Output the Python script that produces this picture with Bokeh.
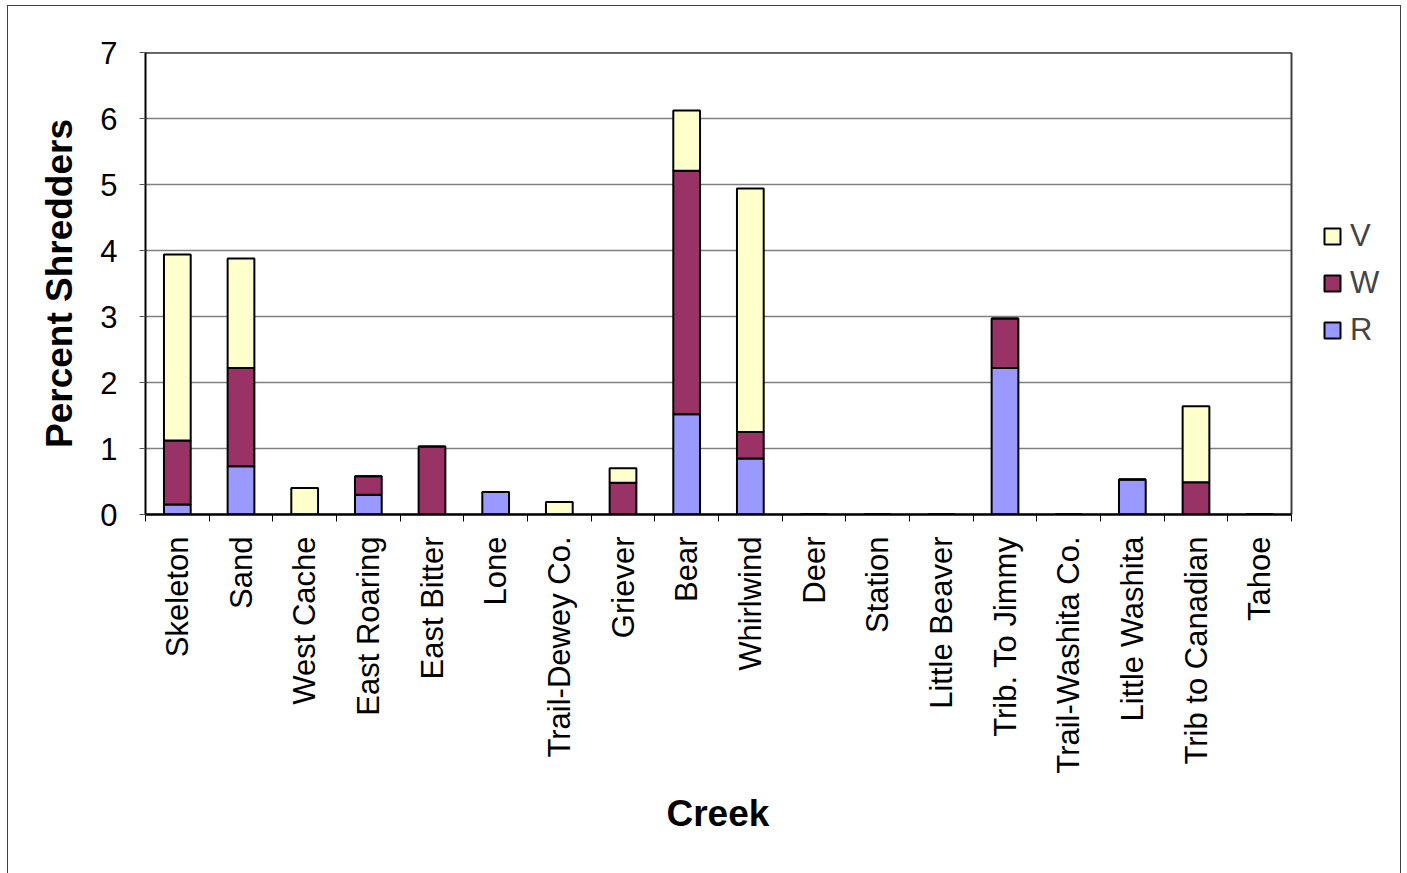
import math
from bokeh.plotting import figure
from bokeh.models import ColumnDataSource, FixedTicker, Legend, LegendItem, Range1d, Title
from bokeh.embed import file_html
from bokeh.resources import INLINE

creeks = ["Skeleton", "Sand", "West Cache", "East Roaring", "East Bitter", "Lone",
          "Trail-Dewey Co.", "Griever", "Bear", "Whirlwind", "Deer", "Station",
          "Little Beaver", "Trib. To Jimmy", "Trail-Washita Co.", "Little Washita",
          "Trib to Canadian", "Tahoe"]
R = [0.15, 0.73, 0.0, 0.30, 0.0, 0.34, 0.0, 0.0, 1.52, 0.85, 0.0, 0.0, 0.0, 2.22, 0.0, 0.53, 0.0, 0.0]
W = [0.97, 1.49, 0.0, 0.28, 1.03, 0.0, 0.0, 0.48, 3.69, 0.40, 0.0, 0.0, 0.0, 0.75, 0.0, 0.0, 0.49, 0.0]
V = [2.82, 1.66, 0.40, 0.0, 0.0, 0.0, 0.19, 0.22, 0.91, 3.69, 0.0, 0.0, 0.0, 0.0, 0.0, 0.0, 1.15, 0.0]
y_ticks = [0, 1, 2, 3, 4, 5, 6, 7]

FONT = "Liberation Sans"
n = len(creeks)
y_max = y_ticks[-1]
centers = [i + 0.5 for i in range(n)]
source = ColumnDataSource(dict(x=centers, R=R, W=W, V=V))

# layout (pixels): plot box is 1146 px wide, the frame also spans the legend area
FIG_W, FIG_H = 1392, 867
LEFT, TOP, BOTTOM, RIGHT = 137, 46, 359, 1
BOX_W = 1146
frame_w = FIG_W - LEFT - RIGHT
x_end = n * frame_w / BOX_W

p = figure(width=FIG_W, height=FIG_H, output_backend="svg", toolbar_location=None,
           x_range=Range1d(0, x_end), y_range=Range1d(0, y_max),
           min_border_left=LEFT, min_border_top=TOP, min_border_right=RIGHT,
           min_border_bottom=BOTTOM)
p.margin = (6, 0, 0, 8)
p.styles = {"outline": "1px solid #404040"}
p.background_fill_color = "white"
p.border_fill_color = "white"
p.outline_line_color = None

# horizontal gridlines limited to the plot box
p.segment(x0=[0] * len(y_ticks), x1=[n] * len(y_ticks), y0=y_ticks, y1=y_ticks,
          line_color="#808080", line_width=1.5)

rs = p.vbar_stack(["R", "W", "V"], x="x", width=0.42, source=source,
                  fill_color=["#9999FF", "#993366", "#FFFFCC"],
                  line_color="black", line_width=2)

# plot box top and right edges
p.segment(x0=[0], x1=[n], y0=[y_max], y1=[y_max], line_color="black", line_width=2)
p.segment(x0=[n], x1=[n], y0=[0], y1=[y_max], line_color="#404040", line_width=2)

# axes
p.xaxis.bounds = (0, n)
p.xaxis.ticker = FixedTicker(ticks=centers, minor_ticks=list(range(n + 1)))
p.xaxis.major_label_overrides = {c: name for c, name in zip(centers, creeks)}
p.xaxis.major_tick_line_color = None
p.xaxis.minor_tick_line_color = "black"
p.xaxis.minor_tick_in = 0
p.xaxis.minor_tick_out = 7
p.xaxis.major_label_orientation = math.pi / 2
p.xaxis.major_label_standoff = 15
p.xaxis.axis_line_width = 2.5
p.xaxis.axis_line_color = "black"

p.yaxis.ticker = FixedTicker(ticks=y_ticks, minor_ticks=[])
p.yaxis.major_tick_in = 0
p.yaxis.major_tick_out = 6
p.yaxis.major_tick_line_color = "#555555"
p.yaxis.major_label_standoff = 22
p.yaxis.axis_line_width = 2
p.yaxis.axis_line_color = "black"
p.yaxis.axis_label = "Percent Shredders"
p.yaxis.axis_label_standoff = 17

for ax in (p.xaxis, p.yaxis):
    ax.major_label_text_font = FONT
    ax.major_label_text_font_size = "31px"
    ax.major_label_text_color = "black"
    ax.axis_label_text_font = FONT
    ax.axis_label_text_font_size = "37px"
    ax.axis_label_text_font_style = "bold"
    ax.axis_label_text_color = "black"

# x-axis title, centred under the plot box (not under the wider frame)
creek_title = Title(text="Creek", align="left", offset=BOX_W / 2 - 52, standoff=29,
                    text_font=FONT, text_font_size="37px", text_font_style="bold",
                    text_color="black")
p.add_layout(creek_title, "below")

p.xgrid.grid_line_color = None
p.ygrid.grid_line_color = None

legend = Legend(items=[LegendItem(label="V", renderers=[rs[2]]),
                       LegendItem(label="W", renderers=[rs[1]]),
                       LegendItem(label="R", renderers=[rs[0]])],
                location=(BOX_W + 31, 166), orientation="vertical",
                glyph_width=20, glyph_height=20, label_standoff=8,
                spacing=11, padding=0, margin=0,
                border_line_color=None, background_fill_alpha=0,
                label_text_font=FONT, label_text_font_size="31px")
p.add_layout(legend, "center")

open("out.html", "w").write(file_html(p, INLINE))
